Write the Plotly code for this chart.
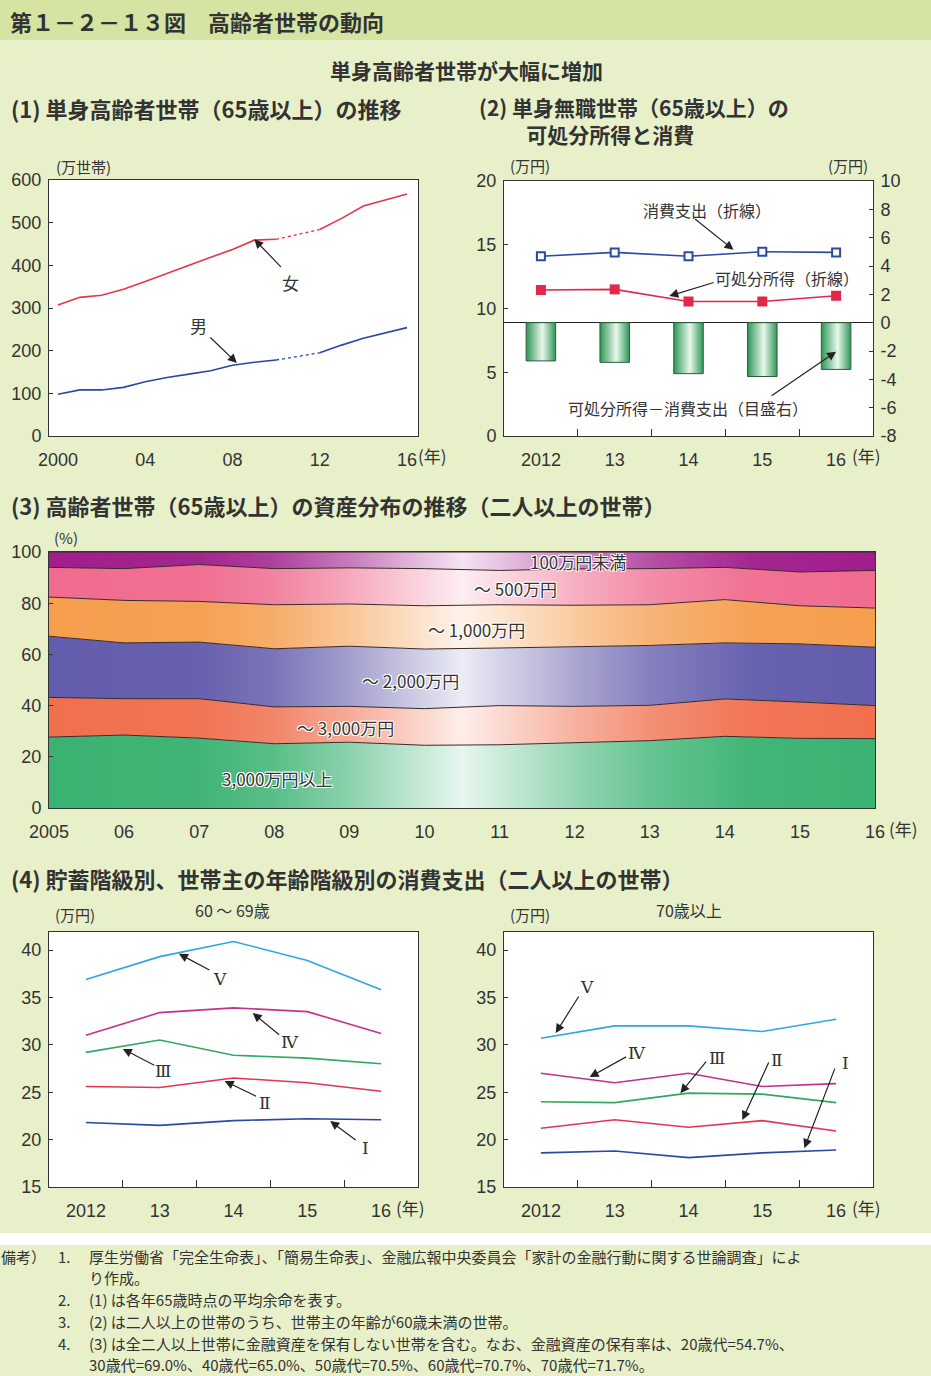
import plotly.graph_objects as go

W, H = 931, 1376
JP = "Noto Sans CJK JP"
NUM = "Liberation Sans, Arial, sans-serif"
INK = "#333333"

# ---------------- (1) single elderly households (10k households) ----------------
years1 = list(range(2000, 2017))
year1_ticks = [2000, 2004, 2008, 2012, 2016]
year1_labels = ["2000", "04", "08", "12", "16"]
female = [307, 325, 330, 344, 362, 381, 401, 419, 437, 459, 461, None, 484, 510, 539, 553, 567]
male = [98, 108, 108, 114, 127, 137, 145, 153, 166, 173, 178, None, 195, 213, 229, 242, 254]

# ---------------- (2) single jobless households: income and spending ----------------
years2 = ["2012", "13", "14", "15", "16"]
spending = [14.1, 14.4, 14.1, 14.45, 14.4]
income = [11.45, 11.5, 10.55, 10.55, 11.0]
balance = [-2.7, -2.8, -3.6, -3.8, -3.3]
right_ticks = [-8, -6, -4, -2, 0, 2, 4, 6, 8, 10]
right_labels = ["-8", "-6", "-4", "-2", "0", "2", "4", "6", "8", "10"]

# ---------------- (3) asset distribution of elderly households (%) ----------------
years3 = list(range(2005, 2017))
year3_labels = ["2005", "06", "07", "08", "09", "10", "11", "12", "13", "14", "15", "16"]
band_names = ["3,000万円以上", "〜 3,000万円", "〜 2,000万円", "〜 1,000万円", "〜 500万円", "100万円未満"]
over_3000 = [27.7, 28.5, 27.3, 25.1, 25.7, 24.5, 24.7, 25.4, 26.3, 28.0, 27.2, 27.1]
upto_3000 = [15.5, 14.2, 15.4, 14.4, 14.0, 14.3, 15.3, 14.3, 13.8, 14.6, 14.2, 12.9]
upto_2000 = [23.9, 21.8, 22.1, 22.7, 23.5, 23.3, 22.5, 23.2, 23.4, 21.9, 22.7, 22.8]
upto_1000 = [15.3, 16.6, 15.9, 17.2, 16.5, 16.9, 16.9, 16.3, 15.9, 16.9, 14.9, 15.3]
upto_500 = [11.6, 12.4, 14.4, 14.1, 14.1, 14.5, 13.4, 14.2, 14.1, 12.6, 13.2, 14.7]
under_100 = [6.0, 6.5, 4.9, 6.5, 6.1, 6.5, 7.2, 6.6, 6.5, 6.0, 7.8, 7.2]
bands = [over_3000, upto_3000, upto_2000, upto_1000, upto_500, under_100]
band_rgb = [(58, 178, 114), (240, 112, 78), (98, 92, 172), (245, 158, 78), (240, 108, 142), (160, 30, 140)]

# ---------------- (4) spending by savings class (10k yen) ----------------
classes = ["Ⅴ", "Ⅳ", "Ⅲ", "Ⅱ", "Ⅰ"]
class_colors = ["#2ea6e0", "#c4308c", "#2fa862", "#e43452", "#2a48a6"]
age60s = [
    [36.9, 39.3, 40.9, 38.9, 35.8],
    [31.0, 33.4, 33.9, 33.5, 31.2],
    [29.2, 30.5, 28.9, 28.6, 28.0],
    [25.6, 25.5, 26.5, 26.0, 25.1],
    [21.8, 21.5, 22.0, 22.2, 22.1],
]
age70plus = [
    [30.7, 32.0, 32.0, 31.4, 32.7],
    [27.0, 26.0, 27.0, 25.6, 25.9],
    [24.0, 23.9, 24.9, 24.8, 23.9],
    [21.2, 22.1, 21.3, 22.0, 20.9],
    [18.6, 18.8, 18.1, 18.6, 18.9],
]

# ---------------- notes ----------------
note_numbers = ["1.", "", "2.", "3.", "4.", ""]
note_lines = [
    "厚生労働省「完全生命表」、「簡易生命表」、金融広報中央委員会「家計の金融行動に関する世論調査」によ",
    "り作成。",
    "(1) は各年65歳時点の平均余命を表す。",
    "(2) は二人以上の世帯のうち、世帯主の年齢が60歳未満の世帯。",
    "(3) は全二人以上世帯に金融資産を保有しない世帯を含む。なお、金融資産の保有率は、20歳代=54.7%、",
    "30歳代=69.0%、40歳代=65.0%、50歳代=70.5%、60歳代=70.7%、70歳代=71.7%。",
]

cat_x = list(range(len(years2)))


def dom_x(a, b):
    return [a / W, b / W]


def dom_y(top, bottom):
    return [1 - bottom / H, 1 - top / H]


def mix_white(rgb, w):
    r, g, b = (round(c + (255 - c) * w) for c in rgb)
    return f"rgb({r},{g},{b})"


def band_scale(rgb):
    stops = [(0, 0.0), (0.18, 0.03), (0.27, 0.15), (0.36, 0.4), (0.5, 0.88),
             (0.64, 0.45), (0.73, 0.22), (0.85, 0.04), (1, 0.0)]
    return [[p, mix_white(rgb, w)] for p, w in stops]


fig = go.Figure()

# (1) lines
fig.add_trace(go.Scatter(x=years1, y=female, mode="lines", line=dict(color="#e8344c", width=1.6),
                         xaxis="x", yaxis="y", connectgaps=False))
fig.add_trace(go.Scatter(x=years1, y=male, mode="lines", line=dict(color="#2a48a6", width=1.6),
                         xaxis="x", yaxis="y", connectgaps=False))
gap = [10, 12]
fig.add_trace(go.Scatter(x=[years1[i] for i in gap], y=[female[i] for i in gap], mode="lines",
                         line=dict(color="#e8344c", width=1.4, dash="dot"), xaxis="x", yaxis="y"))
fig.add_trace(go.Scatter(x=[years1[i] for i in gap], y=[male[i] for i in gap], mode="lines",
                         line=dict(color="#2a48a6", width=1.4, dash="dot"), xaxis="x", yaxis="y"))

# (2) bars (right scale) with a cylinder-like gradient
bar_w = 0.2
for i, v in zip(cat_x, balance):
    fig.add_trace(go.Scatter(
        x=[i - bar_w, i - bar_w, i + bar_w, i + bar_w, i - bar_w],
        y=[0, v, v, 0, 0], mode="lines", fill="toself",
        fillgradient=dict(type="horizontal",
                          colorscale=[[0, "#2e9657"], [0.55, "#eaf8ec"], [1, "#2e9657"]]),
        line=dict(color="#2b5e3b", width=1), xaxis="x2", yaxis="y3"))
fig.add_trace(go.Scatter(x=cat_x, y=spending, mode="lines+markers",
                         line=dict(color="#2a4aa6", width=1.6),
                         marker=dict(symbol="square", size=8, color="white",
                                     line=dict(color="#2a4aa6", width=2)),
                         xaxis="x2", yaxis="y2"))
fig.add_trace(go.Scatter(x=cat_x, y=income, mode="lines+markers",
                         line=dict(color="#e2284a", width=1.6),
                         marker=dict(symbol="square", size=10, color="#e2284a"),
                         xaxis="x2", yaxis="y2"))

# (3) stacked areas
for vals, rgb in zip(bands, band_rgb):
    fig.add_trace(go.Scatter(x=years3, y=vals, mode="lines", stackgroup="assets",
                             line=dict(color="#3a2a2a", width=1),
                             fillgradient=dict(type="horizontal", colorscale=band_scale(rgb)),
                             xaxis="x3", yaxis="y4"))

# (4) spending lines
for vals, col in zip(age60s, class_colors):
    fig.add_trace(go.Scatter(x=cat_x, y=vals, mode="lines", line=dict(color=col, width=1.6),
                             xaxis="x4", yaxis="y5"))
for vals, col in zip(age70plus, class_colors):
    fig.add_trace(go.Scatter(x=cat_x, y=vals, mode="lines", line=dict(color=col, width=1.6),
                             xaxis="x5", yaxis="y6"))

tickfont = dict(family=NUM, size=18, color=INK)
frame = dict(showline=True, mirror=True, linecolor=INK, linewidth=1, showgrid=False,
             zeroline=False, tickfont=tickfont)
ytick = dict(ticks="inside", ticklen=4, tickcolor=INK, ticklabelstandoff=3)
xcat = dict(range=[-0.5, 4.5], tickvals=cat_x, ticktext=years2[:-1] + ["16"], ticks="",
            ticklabelstandoff=7,
            minor=dict(tickvals=[0.5, 1.5, 2.5, 3.5], ticks="inside", ticklen=7,
                       tickcolor=INK, tickwidth=1))

fig.update_layout(
    width=W, height=H, margin=dict(l=0, r=0, t=0, b=0, autoexpand=False),
    paper_bgcolor="#e8f0c9", plot_bgcolor="white", showlegend=False, hovermode=False,
    xaxis=dict(frame, domain=dom_x(49, 418), range=[1999.587, 2016.504], tickvals=year1_ticks,
               ticktext=year1_labels, ticks="", ticklabelstandoff=7, anchor="y"),
    yaxis=dict(frame, **ytick, domain=dom_y(180, 436), range=[0, 600], dtick=100, anchor="x"),
    xaxis2=dict(frame, **xcat, domain=dom_x(504, 873), anchor="y2"),
    yaxis2=dict(frame, **ytick, domain=dom_y(181, 436), range=[0, 20], dtick=5, anchor="x2"),
    yaxis3=dict(showline=True, linecolor=INK, linewidth=1, showgrid=False, tickfont=tickfont,
                **ytick, overlaying="y2", side="right", range=[-8, 10], tickvals=right_ticks,
                ticktext=right_labels, anchor="x2",
                zeroline=True, zerolinecolor="#222", zerolinewidth=1.2),
    xaxis3=dict(frame, domain=dom_x(49, 875), range=[2005, 2016], tickvals=years3,
                ticktext=year3_labels, ticks="", ticklabelstandoff=7, anchor="y4"),
    yaxis4=dict(frame, **ytick, domain=dom_y(552, 808), range=[0, 100], dtick=20, anchor="x3"),
    xaxis4=dict(frame, **xcat, domain=dom_x(49, 418), anchor="y5"),
    yaxis5=dict(frame, **ytick, domain=dom_y(932, 1187), range=[15, 41.9], dtick=5, anchor="x4"),
    xaxis5=dict(frame, **xcat, domain=dom_x(504, 873), anchor="y6"),
    yaxis6=dict(frame, **ytick, domain=dom_y(932, 1187), range=[15, 41.9], dtick=5, anchor="x5"),
)

# background bands
fig.add_shape(type="rect", xref="paper", yref="paper", x0=0, x1=1, y0=1 - 40 / H, y1=1,
              fillcolor="#d5e4a2", line_width=0, layer="below")
fig.add_shape(type="rect", xref="paper", yref="paper", x0=0, x1=1, y0=1 - 1245 / H,
              y1=1 - 1233 / H, fillcolor="white", line_width=0, layer="below")

ann = []


def text(s, x, y, size=16, anchor="center", bold=False, family=JP, color=INK, shadow=None,
         yanchor="middle", pad=1):
    f = dict(family=family, size=size, color=color)
    if bold:
        f["weight"] = "bold"
    if shadow:
        f["shadow"] = shadow
    ann.append(dict(text=s, x=x / W, y=1 - y / H, xref="paper", yref="paper", xanchor=anchor,
                    yanchor=yanchor, align="left", showarrow=False, font=f, borderpad=pad))


def arrow(xr, yr, x, y, ax, ay):
    ann.append(dict(text="", x=x, y=y, xref=xr, yref=yr, ax=ax, ay=ay, axref="pixel",
                    ayref="pixel", showarrow=True, arrowhead=2, arrowsize=1.5, arrowwidth=1.2,
                    arrowcolor="#222"))


# titles
text("第１－２－１３図　高齢者世帯の動向", 8, 21, size=22, anchor="left", bold=True)
text("単身高齢者世帯が大幅に増加", 466, 70, size=21, bold=True)
text("(1) 単身高齢者世帯（65歳以上）の推移", 9, 108, size=22, anchor="left", bold=True)
# second line indented under the text, past the "(2) " prefix
text("(2) 単身無職世帯（65歳以上）の<br>"
     "<span style='color:rgba(0,0,0,0)'>(2)&nbsp;&nbsp;&nbsp;&nbsp;</span>可処分所得と消費",
     477, 121, size=21, anchor="left", bold=True)
text("(3) 高齢者世帯（65歳以上）の資産分布の推移（二人以上の世帯）", 9, 505, size=22,
     anchor="left", bold=True)
text("(4) 貯蓄階級別、世帯主の年齢階級別の消費支出（二人以上の世帯）", 9, 878, size=22,
     anchor="left", bold=True)

# units and year suffixes
text("(万世帯)", 83, 166, size=15)
text("(万円)", 530, 165, size=15)
text("(万円)", 848, 165, size=15)
text("(%)", 66, 537, size=15)
text("(万円)", 75, 914, size=15)
text("(万円)", 530, 914, size=15)
text("60 〜 69歳", 232, 910, size=16)
text("70歳以上", 689, 910, size=16)
for x, y in [(432, 456), (866, 456), (903, 828), (410, 1207), (866, 1207)]:
    text("(年)", x, y, size=17)

# (1) labels
text("女", 290, 283, size=17)
text("男", 198, 325, size=17)
arrow("x", "y", 2009, 461, 28, 29)
arrow("x", "y", 2008.2, 171, -28, -27)

# (2) labels
text("消費支出（折線）", 707, 210, size=16)
text("可処分所得（折線）", 787, 278, size=16)
text("可処分所得－消費支出（目盛右）", 688, 408, size=16)
arrow("x2", "y2", 2.61, 14.6, -40, -32)
arrow("x2", "y2", 1.74, 10.98, 46, -14)
arrow("x2", "y3", 4.0, -2.05, -66, 45)

# (3) band labels
halo = "1px 1px 0 #fff, -1px -1px 0 #fff, 1px -1px 0 #fff, -1px 1px 0 #fff"
for name, (x, y) in zip(band_names, [(277, 778), (345, 727), (410, 680), (476, 629),
                                      (515, 588), (578, 562)]):
    text(name, x, y, size=17, shadow=halo)

# (4) class labels
SERIF = "DejaVu Serif"
for name, (x, y) in zip(classes, [(220, 979), (290, 1042), (163, 1071), (265, 1103), (365, 1148)]):
    text(name, x, y, size=17, family=SERIF)
for (hx, hy, ax, ay) in [(1.26, 39.6, 32, 17), (2.26, 33.35, 28, 23), (0.5, 29.56, 33, 17),
                          (1.88, 26.18, 33, 16), (3.31, 21.96, 27, 20)]:
    arrow("x4", "y5", hx, hy, ax, ay)
for name, (x, y) in zip(classes, [(587, 987), (637, 1053), (717, 1058), (777, 1060), (845, 1063)]):
    text(name, x, y, size=17, family=SERIF)
for (hx, hy, ax, ay) in [(0.2, 31.24, 24, -38), (0.66, 26.6, 38, -21), (1.89, 24.9, 27, -33),
                          (2.73, 22.07, 27, -59), (3.57, 19.1, 31, -81)]:
    arrow("x5", "y6", hx, hy, ax, ay)

# notes block: one line per text, evenly pitched
note_size = 15
pitch = 21.75
first_line = 1256
text("備考）", 0, first_line, size=note_size, anchor="left", pad=0)
for k, (num, body) in enumerate(zip(note_numbers, note_lines)):
    y = first_line + k * pitch
    if num:
        text(num, 57, y, size=note_size, anchor="left", pad=0)
    text(body, 88, y, size=note_size, anchor="left", pad=0)

fig.update_layout(annotations=ann)
fig.write_html("out.html")
